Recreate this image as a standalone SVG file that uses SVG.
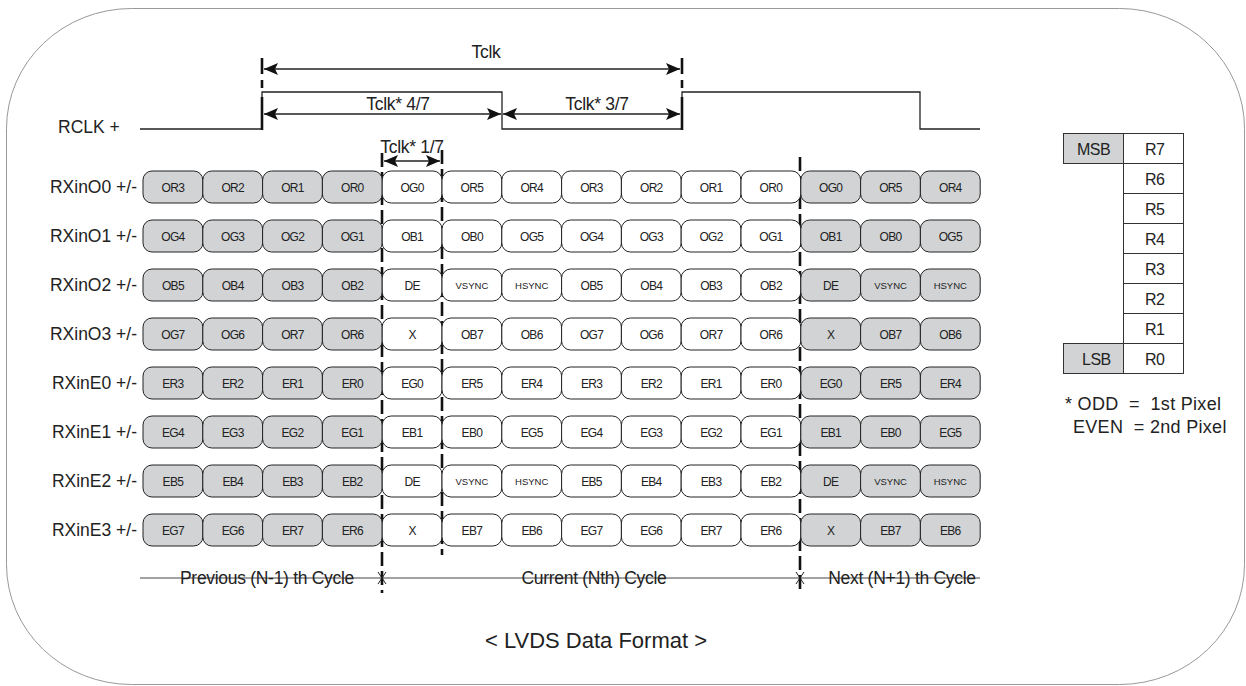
<svg xmlns="http://www.w3.org/2000/svg" width="1246" height="686" viewBox="0 0 1246 686">
<style>
text{font-family:"Liberation Sans",Arial,sans-serif;fill:#222}
.lbl{font-size:17.5px;text-anchor:end}
.c{font-size:12px;text-anchor:middle;letter-spacing:-0.7px}
.s{font-size:9.5px;text-anchor:middle}
.g rect{fill:#d1d3d5;stroke:#222;stroke-width:1}
.w rect{fill:#fff;stroke:#222;stroke-width:1}
.ln{stroke:#222;stroke-width:1.3;fill:none}
.dash{stroke:#111;stroke-width:2.6;stroke-dasharray:14,5;fill:none}
.tk{font-size:17.5px;text-anchor:middle;letter-spacing:-0.3px}
.tb{fill:#fff;stroke:#333;stroke-width:1}
.tbg{fill:#d1d3d5;stroke:#333;stroke-width:1}
.t16{font-size:16px;letter-spacing:-0.5px}
.note{font-size:18px;letter-spacing:0.3px}
</style>
<defs>
<marker id="ah" viewBox="0 0 14 12" refX="14" refY="6" markerWidth="14" markerHeight="12" markerUnits="userSpaceOnUse" orient="auto-start-reverse"><path d="M0,0 L14,6 L0,12 L3,6 Z" fill="#111"/></marker>
</defs>
<rect x="6.5" y="8.5" width="1238" height="676" rx="125" ry="120" fill="none" stroke="#999" stroke-width="1"/>

<g id="clock">
<text x="58" y="133" style="font-size:17.5px">RCLK +</text>
<polyline class="ln" points="140,129 262,129 262,92 502,92 502,129 682,129 682,92 920,92 920,129 980,129"/>
</g>

<g id="connectors">
<path class="dash" d="M262,58 V74 M262,80 V88 M262,97 V130 M682,58 V74 M682,80 V88 M682,97 V130" style="stroke-dasharray:none"/>
<line class="ln" x1="264" y1="69" x2="680" y2="69" marker-start="url(#ah)" marker-end="url(#ah)"/>
<line class="ln" x1="264" y1="114" x2="501" y2="114" marker-start="url(#ah)" marker-end="url(#ah)"/>
<line class="ln" x1="503" y1="114" x2="680" y2="114" marker-start="url(#ah)" marker-end="url(#ah)"/>
<line class="ln" x1="384" y1="161" x2="440" y2="161" marker-start="url(#ah)" marker-end="url(#ah)"/>
<line class="dash" x1="382" y1="153" x2="382" y2="593"/>
<line class="dash" x1="442" y1="150" x2="442" y2="555"/>
<line class="dash" x1="800" y1="157" x2="800" y2="593"/>
<line x1="140" y1="578" x2="980" y2="578" stroke="#444" stroke-width="1"/>
<path d="M378,572 L386,584 M386,572 L378,584 M796,572 L804,584 M804,572 L796,584" stroke="#222" stroke-width="1"/>
</g>

<g id="timing-labels">
<text class="tk" x="486" y="58">Tclk</text>
<text class="tk" x="398" y="110">Tclk* 4/7</text>
<text class="tk" x="597" y="110">Tclk* 3/7</text>
<text class="tk" x="412" y="153">Tclk* 1/7</text>
</g>

<g id="row-labels">
<text class="lbl" x="137" y="193">RXinO0 +/-</text>
<text class="lbl" x="137" y="242">RXinO1 +/-</text>
<text class="lbl" x="137" y="291">RXinO2 +/-</text>
<text class="lbl" x="137" y="340">RXinO3 +/-</text>
<text class="lbl" x="137" y="389">RXinE0 +/-</text>
<text class="lbl" x="137" y="438">RXinE1 +/-</text>
<text class="lbl" x="137" y="487">RXinE2 +/-</text>
<text class="lbl" x="137" y="536">RXinE3 +/-</text>
</g>

<g id="row-O0">
<g class="g"><rect x="143" y="171" width="59.8" height="32" rx="9"/><rect x="202.8" y="171" width="59.8" height="32" rx="9"/><rect x="262.6" y="171" width="59.8" height="32" rx="9"/><rect x="322.4" y="171" width="59.8" height="32" rx="9"/></g>
<g class="w"><rect x="382.2" y="171" width="59.8" height="32" rx="9"/><rect x="442" y="171" width="59.8" height="32" rx="9"/><rect x="501.8" y="171" width="59.8" height="32" rx="9"/><rect x="561.6" y="171" width="59.8" height="32" rx="9"/><rect x="621.4" y="171" width="59.8" height="32" rx="9"/><rect x="681.2" y="171" width="59.8" height="32" rx="9"/><rect x="741" y="171" width="59.8" height="32" rx="9"/></g>
<g class="g"><rect x="800.8" y="171" width="59.8" height="32" rx="9"/><rect x="860.6" y="171" width="59.8" height="32" rx="9"/><rect x="920.4" y="171" width="59.8" height="32" rx="9"/></g>
<text class="c" y="191.5"><tspan x="172.9">OR3</tspan><tspan x="232.7">OR2</tspan><tspan x="292.5">OR1</tspan><tspan x="352.3">OR0</tspan><tspan x="412.1">OG0</tspan><tspan x="471.9">OR5</tspan><tspan x="531.7">OR4</tspan><tspan x="591.5">OR3</tspan><tspan x="651.3">OR2</tspan><tspan x="711.1">OR1</tspan><tspan x="770.9">OR0</tspan><tspan x="830.7">OG0</tspan><tspan x="890.5">OR5</tspan><tspan x="950.3">OR4</tspan></text>
</g>

<g id="row-O1">
<g class="g"><rect x="143" y="220" width="59.8" height="32" rx="9"/><rect x="202.8" y="220" width="59.8" height="32" rx="9"/><rect x="262.6" y="220" width="59.8" height="32" rx="9"/><rect x="322.4" y="220" width="59.8" height="32" rx="9"/></g>
<g class="w"><rect x="382.2" y="220" width="59.8" height="32" rx="9"/><rect x="442" y="220" width="59.8" height="32" rx="9"/><rect x="501.8" y="220" width="59.8" height="32" rx="9"/><rect x="561.6" y="220" width="59.8" height="32" rx="9"/><rect x="621.4" y="220" width="59.8" height="32" rx="9"/><rect x="681.2" y="220" width="59.8" height="32" rx="9"/><rect x="741" y="220" width="59.8" height="32" rx="9"/></g>
<g class="g"><rect x="800.8" y="220" width="59.8" height="32" rx="9"/><rect x="860.6" y="220" width="59.8" height="32" rx="9"/><rect x="920.4" y="220" width="59.8" height="32" rx="9"/></g>
<text class="c" y="240.5"><tspan x="172.9">OG4</tspan><tspan x="232.7">OG3</tspan><tspan x="292.5">OG2</tspan><tspan x="352.3">OG1</tspan><tspan x="412.1">OB1</tspan><tspan x="471.9">OB0</tspan><tspan x="531.7">OG5</tspan><tspan x="591.5">OG4</tspan><tspan x="651.3">OG3</tspan><tspan x="711.1">OG2</tspan><tspan x="770.9">OG1</tspan><tspan x="830.7">OB1</tspan><tspan x="890.5">OB0</tspan><tspan x="950.3">OG5</tspan></text>
</g>

<g id="row-O2">
<g class="g"><rect x="143" y="269" width="59.8" height="32" rx="9"/><rect x="202.8" y="269" width="59.8" height="32" rx="9"/><rect x="262.6" y="269" width="59.8" height="32" rx="9"/><rect x="322.4" y="269" width="59.8" height="32" rx="9"/></g>
<g class="w"><rect x="382.2" y="269" width="59.8" height="32" rx="9"/><rect x="442" y="269" width="59.8" height="32" rx="9"/><rect x="501.8" y="269" width="59.8" height="32" rx="9"/><rect x="561.6" y="269" width="59.8" height="32" rx="9"/><rect x="621.4" y="269" width="59.8" height="32" rx="9"/><rect x="681.2" y="269" width="59.8" height="32" rx="9"/><rect x="741" y="269" width="59.8" height="32" rx="9"/></g>
<g class="g"><rect x="800.8" y="269" width="59.8" height="32" rx="9"/><rect x="860.6" y="269" width="59.8" height="32" rx="9"/><rect x="920.4" y="269" width="59.8" height="32" rx="9"/></g>
<text class="c" y="289.5"><tspan x="172.9">OB5</tspan><tspan x="232.7">OB4</tspan><tspan x="292.5">OB3</tspan><tspan x="352.3">OB2</tspan><tspan x="412.1">DE</tspan><tspan x="591.5">OB5</tspan><tspan x="651.3">OB4</tspan><tspan x="711.1">OB3</tspan><tspan x="770.9">OB2</tspan><tspan x="830.7">DE</tspan></text>
<text class="s" y="288.5"><tspan x="471.9">VSYNC</tspan><tspan x="531.7">HSYNC</tspan><tspan x="890.5">VSYNC</tspan><tspan x="950.3">HSYNC</tspan></text>
</g>

<g id="row-O3">
<g class="g"><rect x="143" y="318" width="59.8" height="32" rx="9"/><rect x="202.8" y="318" width="59.8" height="32" rx="9"/><rect x="262.6" y="318" width="59.8" height="32" rx="9"/><rect x="322.4" y="318" width="59.8" height="32" rx="9"/></g>
<g class="w"><rect x="382.2" y="318" width="59.8" height="32" rx="9"/><rect x="442" y="318" width="59.8" height="32" rx="9"/><rect x="501.8" y="318" width="59.8" height="32" rx="9"/><rect x="561.6" y="318" width="59.8" height="32" rx="9"/><rect x="621.4" y="318" width="59.8" height="32" rx="9"/><rect x="681.2" y="318" width="59.8" height="32" rx="9"/><rect x="741" y="318" width="59.8" height="32" rx="9"/></g>
<g class="g"><rect x="800.8" y="318" width="59.8" height="32" rx="9"/><rect x="860.6" y="318" width="59.8" height="32" rx="9"/><rect x="920.4" y="318" width="59.8" height="32" rx="9"/></g>
<text class="c" y="338.5"><tspan x="172.9">OG7</tspan><tspan x="232.7">OG6</tspan><tspan x="292.5">OR7</tspan><tspan x="352.3">OR6</tspan><tspan x="412.1">X</tspan><tspan x="471.9">OB7</tspan><tspan x="531.7">OB6</tspan><tspan x="591.5">OG7</tspan><tspan x="651.3">OG6</tspan><tspan x="711.1">OR7</tspan><tspan x="770.9">OR6</tspan><tspan x="830.7">X</tspan><tspan x="890.5">OB7</tspan><tspan x="950.3">OB6</tspan></text>
</g>

<g id="row-E0">
<g class="g"><rect x="143" y="367" width="59.8" height="32" rx="9"/><rect x="202.8" y="367" width="59.8" height="32" rx="9"/><rect x="262.6" y="367" width="59.8" height="32" rx="9"/><rect x="322.4" y="367" width="59.8" height="32" rx="9"/></g>
<g class="w"><rect x="382.2" y="367" width="59.8" height="32" rx="9"/><rect x="442" y="367" width="59.8" height="32" rx="9"/><rect x="501.8" y="367" width="59.8" height="32" rx="9"/><rect x="561.6" y="367" width="59.8" height="32" rx="9"/><rect x="621.4" y="367" width="59.8" height="32" rx="9"/><rect x="681.2" y="367" width="59.8" height="32" rx="9"/><rect x="741" y="367" width="59.8" height="32" rx="9"/></g>
<g class="g"><rect x="800.8" y="367" width="59.8" height="32" rx="9"/><rect x="860.6" y="367" width="59.8" height="32" rx="9"/><rect x="920.4" y="367" width="59.8" height="32" rx="9"/></g>
<text class="c" y="387.5"><tspan x="172.9">ER3</tspan><tspan x="232.7">ER2</tspan><tspan x="292.5">ER1</tspan><tspan x="352.3">ER0</tspan><tspan x="412.1">EG0</tspan><tspan x="471.9">ER5</tspan><tspan x="531.7">ER4</tspan><tspan x="591.5">ER3</tspan><tspan x="651.3">ER2</tspan><tspan x="711.1">ER1</tspan><tspan x="770.9">ER0</tspan><tspan x="830.7">EG0</tspan><tspan x="890.5">ER5</tspan><tspan x="950.3">ER4</tspan></text>
</g>

<g id="row-E1">
<g class="g"><rect x="143" y="416" width="59.8" height="32" rx="9"/><rect x="202.8" y="416" width="59.8" height="32" rx="9"/><rect x="262.6" y="416" width="59.8" height="32" rx="9"/><rect x="322.4" y="416" width="59.8" height="32" rx="9"/></g>
<g class="w"><rect x="382.2" y="416" width="59.8" height="32" rx="9"/><rect x="442" y="416" width="59.8" height="32" rx="9"/><rect x="501.8" y="416" width="59.8" height="32" rx="9"/><rect x="561.6" y="416" width="59.8" height="32" rx="9"/><rect x="621.4" y="416" width="59.8" height="32" rx="9"/><rect x="681.2" y="416" width="59.8" height="32" rx="9"/><rect x="741" y="416" width="59.8" height="32" rx="9"/></g>
<g class="g"><rect x="800.8" y="416" width="59.8" height="32" rx="9"/><rect x="860.6" y="416" width="59.8" height="32" rx="9"/><rect x="920.4" y="416" width="59.8" height="32" rx="9"/></g>
<text class="c" y="436.5"><tspan x="172.9">EG4</tspan><tspan x="232.7">EG3</tspan><tspan x="292.5">EG2</tspan><tspan x="352.3">EG1</tspan><tspan x="412.1">EB1</tspan><tspan x="471.9">EB0</tspan><tspan x="531.7">EG5</tspan><tspan x="591.5">EG4</tspan><tspan x="651.3">EG3</tspan><tspan x="711.1">EG2</tspan><tspan x="770.9">EG1</tspan><tspan x="830.7">EB1</tspan><tspan x="890.5">EB0</tspan><tspan x="950.3">EG5</tspan></text>
</g>

<g id="row-E2">
<g class="g"><rect x="143" y="465" width="59.8" height="32" rx="9"/><rect x="202.8" y="465" width="59.8" height="32" rx="9"/><rect x="262.6" y="465" width="59.8" height="32" rx="9"/><rect x="322.4" y="465" width="59.8" height="32" rx="9"/></g>
<g class="w"><rect x="382.2" y="465" width="59.8" height="32" rx="9"/><rect x="442" y="465" width="59.8" height="32" rx="9"/><rect x="501.8" y="465" width="59.8" height="32" rx="9"/><rect x="561.6" y="465" width="59.8" height="32" rx="9"/><rect x="621.4" y="465" width="59.8" height="32" rx="9"/><rect x="681.2" y="465" width="59.8" height="32" rx="9"/><rect x="741" y="465" width="59.8" height="32" rx="9"/></g>
<g class="g"><rect x="800.8" y="465" width="59.8" height="32" rx="9"/><rect x="860.6" y="465" width="59.8" height="32" rx="9"/><rect x="920.4" y="465" width="59.8" height="32" rx="9"/></g>
<text class="c" y="485.5"><tspan x="172.9">EB5</tspan><tspan x="232.7">EB4</tspan><tspan x="292.5">EB3</tspan><tspan x="352.3">EB2</tspan><tspan x="412.1">DE</tspan><tspan x="591.5">EB5</tspan><tspan x="651.3">EB4</tspan><tspan x="711.1">EB3</tspan><tspan x="770.9">EB2</tspan><tspan x="830.7">DE</tspan></text>
<text class="s" y="484.5"><tspan x="471.9">VSYNC</tspan><tspan x="531.7">HSYNC</tspan><tspan x="890.5">VSYNC</tspan><tspan x="950.3">HSYNC</tspan></text>
</g>

<g id="row-E3">
<g class="g"><rect x="143" y="514" width="59.8" height="32" rx="9"/><rect x="202.8" y="514" width="59.8" height="32" rx="9"/><rect x="262.6" y="514" width="59.8" height="32" rx="9"/><rect x="322.4" y="514" width="59.8" height="32" rx="9"/></g>
<g class="w"><rect x="382.2" y="514" width="59.8" height="32" rx="9"/><rect x="442" y="514" width="59.8" height="32" rx="9"/><rect x="501.8" y="514" width="59.8" height="32" rx="9"/><rect x="561.6" y="514" width="59.8" height="32" rx="9"/><rect x="621.4" y="514" width="59.8" height="32" rx="9"/><rect x="681.2" y="514" width="59.8" height="32" rx="9"/><rect x="741" y="514" width="59.8" height="32" rx="9"/></g>
<g class="g"><rect x="800.8" y="514" width="59.8" height="32" rx="9"/><rect x="860.6" y="514" width="59.8" height="32" rx="9"/><rect x="920.4" y="514" width="59.8" height="32" rx="9"/></g>
<text class="c" y="534.5"><tspan x="172.9">EG7</tspan><tspan x="232.7">EG6</tspan><tspan x="292.5">ER7</tspan><tspan x="352.3">ER6</tspan><tspan x="412.1">X</tspan><tspan x="471.9">EB7</tspan><tspan x="531.7">EB6</tspan><tspan x="591.5">EG7</tspan><tspan x="651.3">EG6</tspan><tspan x="711.1">ER7</tspan><tspan x="770.9">ER6</tspan><tspan x="830.7">X</tspan><tspan x="890.5">EB7</tspan><tspan x="950.3">EB6</tspan></text>
</g>

<g id="cycle-labels">
<text class="tk" x="267" y="584">Previous (N-1) th Cycle</text>
<text class="tk" x="594" y="584">Current (Nth) Cycle</text>
<text class="tk" x="902" y="584">Next (N+1) th Cycle</text>
</g>

<g id="bit-table">
<rect class="tbg" x="1063.5" y="133.5" width="60" height="30"/>
<rect class="tbg" x="1063.5" y="343.5" width="60" height="30"/>
<rect class="tb" x="1123.5" y="133.5" width="60" height="30"/>
<rect class="tb" x="1123.5" y="163.5" width="60" height="30"/>
<rect class="tb" x="1123.5" y="193.5" width="60" height="30"/>
<rect class="tb" x="1123.5" y="223.5" width="60" height="30"/>
<rect class="tb" x="1123.5" y="253.5" width="60" height="30"/>
<rect class="tb" x="1123.5" y="283.5" width="60" height="30"/>
<rect class="tb" x="1123.5" y="313.5" width="60" height="30"/>
<rect class="tb" x="1123.5" y="343.5" width="60" height="30"/>
<text class="t16" x="1077" y="154.5">MSB</text>
<text class="t16" x="1082" y="364.5">LSB</text>
<g class="t16"><text x="1145" y="154.5">R7</text><text x="1145" y="184.5">R6</text><text x="1145" y="214.5">R5</text><text x="1145" y="244.5">R4</text><text x="1145" y="274.5">R3</text><text x="1145" y="304.5">R2</text><text x="1145" y="334.5">R1</text><text x="1145" y="364.5">R0</text></g>
</g>

<g id="note">
<text class="note" x="1065" y="410" xml:space="preserve">* ODD  =  1st Pixel</text>
<text class="note" x="1073" y="433" xml:space="preserve">EVEN  = 2nd Pixel</text>
</g>

<text x="596" y="648" style="font-size:22px;text-anchor:middle">&lt; LVDS Data Format &gt;</text>
</svg>
